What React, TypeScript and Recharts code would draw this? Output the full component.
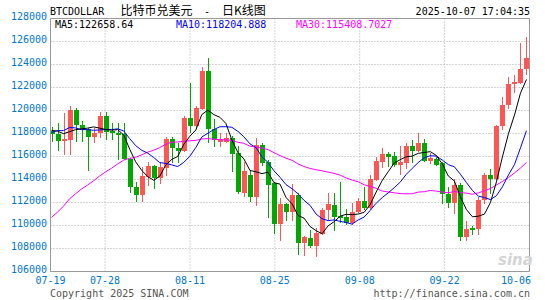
import { ComposedChart, Bar, Line, XAxis, YAxis, CartesianGrid, ReferenceLine } from "recharts";

// daily candles, 07-19 .. 10-06
const dates = [
  "07-19","07-20","07-21","07-22","07-23","07-24","07-25","07-26","07-27","07-28","07-29","07-30","07-31",
  "08-01","08-02","08-03","08-04","08-05","08-06","08-07","08-08","08-09","08-10","08-11","08-12","08-13","08-14","08-15","08-16",
  "08-17","08-18","08-19","08-20","08-21","08-22","08-23","08-24","08-25","08-26","08-27","08-28","08-29","08-30","08-31",
  "09-01","09-02","09-03","09-04","09-05","09-06","09-07","09-08","09-09","09-10","09-11","09-12","09-13","09-14","09-15",
  "09-16","09-17","09-18","09-19","09-20","09-21","09-22","09-23","09-24","09-25","09-26","09-27","09-28","09-29","09-30",
  "10-01","10-02","10-03","10-04","10-05","10-06",
];

const open = [
  118230,117970,117340,117450,120060,118780,118400,117680,118030,119540,
  118250,118080,117970,115770,113340,112640,114260,115190,114170,114990,
  117510,116780,116520,119380,118670,120150,123460,118380,117280,117300,
  117600,116290,112810,114400,112520,117010,115560,113680,110150,111880,
  111210,112670,108470,108900,108230,109280,111360,111800,110840,110780,
  110200,111210,112150,111510,113970,115560,116210,116060,115280,115420,
  116930,116490,117210,115650,115770,115420,112750,112000,113480,109040,
  109740,109680,112180,114400,114060,118610,120500,122290,122380,123600,
];
const high = [
  118600,118950,119820,120350,120210,119100,118520,118470,119910,119910,
  118900,118950,118900,115900,113820,115130,115560,115280,115500,117680,
  117680,117160,119480,122400,120400,123820,124550,119250,118030,118030,
  117800,116870,115480,114840,117600,117160,115710,113820,112380,112000,
  113620,112810,109100,109620,109770,111510,112810,112810,113820,111450,
  111940,112380,113390,114400,116000,116780,116430,116430,116870,117160,
  117450,118030,117510,116290,116000,115560,113390,114030,113680,110400,
  109970,112470,114550,114930,118750,121190,122950,123100,125860,126360,
];
const low = [
  117300,116520,116140,116150,117300,117300,114780,117160,117600,117450,
  117450,115710,115710,112810,112030,112030,113450,113200,113600,114320,
  115420,115420,116410,118030,118490,120060,117160,116810,116810,117190,
  114690,112730,112470,112030,111710,115190,110690,109280,108670,110350,
  110350,107450,107390,108030,107300,109190,110350,109480,110200,110060,
  110060,111100,111360,111360,113880,114990,115130,115080,114400,114900,
  115420,116410,115540,115360,115190,111860,111510,111010,108690,108690,
  109190,109190,111880,112750,113970,118320,120120,121560,122320,123100,
];
const close = [
  117970,117340,117510,120060,118780,118320,117680,118030,119540,118170,
  118030,117910,115770,113340,112640,114320,115190,114170,115130,117510,
  116730,116490,119380,118670,120250,123460,118380,117450,117510,117600,
  116230,112900,114700,112520,117010,115420,113540,110150,111880,111210,
  112670,108470,108990,108230,109390,111360,111880,110780,110640,110200,
  111210,112150,111510,114030,115650,116210,116000,115280,115480,116930,
  116490,117210,115620,115860,115280,112750,112000,113480,109040,109680,
  109600,112230,114400,114060,118670,120500,122290,122490,123600,124600,
];
// closes 06-20 .. 07-18, only used to start the moving averages
const priorCloses = [
  103300,102100,100900,105500,106000,107300,106900,107100,107300,108400,
  107100,105700,108800,109600,108000,108200,109200,108300,108900,111300,
  115900,117500,117400,119100,119800,117700,118600,119200,117900,
];

const tickDates = ["07-19", "07-28", "08-11", "08-25", "09-08", "09-22", "10-06"];
const yTicks = [106000, 108000, 110000, 112000, 114000, 116000, 118000, 120000, 122000, 124000, 126000, 128000];

const title = "BTCDOLLAR";
const titleCn = "比特币兑美元";
const titleCn2 = "日K线图";
const stamp = "2025-10-07 17:04:35";
const maTexts = ["MA5:122658.64", "MA10:118204.888", "MA30:115408.7027"];

const UP = "#ff5555";
const DOWN = "#00a800";
const BLUE = "#0077cc";
const MONO = "'DejaVu Sans Mono', monospace";
const X0 = -0.17;
const X1 = 79.5;

const all = [...priorCloses, ...close];
const ma = (n: number, k: number) => {
  const end = priorCloses.length + k;
  let s = 0;
  for (let j = end - n + 1; j <= end; j++) s += all[j];
  return s / n;
};

const rows = dates.map((d, i) => ({
  i,
  d,
  open: open[i],
  high: high[i],
  low: low[i],
  close: close[i],
  hl: [low[i], high[i]],
  ma5: ma(5, i),
  ma10: ma(10, i),
  ma30: ma(30, i),
}));

const tickIdx = tickDates.map((t) => dates.indexOf(t));
const xTicks = tickIdx.map((k) => X0 + (k * (X1 - X0)) / (dates.length - 1));

function Candle(props: any) {
  const { x, y, width, height, payload } = props;
  if (height == null || !payload) return null;
  const { open: o, close: c, high: h, low: l } = payload;
  const s = h > l ? height / (h - l) : 0;
  const col = c >= o ? UP : DOWN;
  const mid = x + width / 2;
  const wx = Math.floor(mid) + 0.5;
  const top = Math.round(y + (h - Math.max(o, c)) * s);
  const bot = Math.round(y + (h - Math.min(o, c)) * s);
  return (
    <g shapeRendering="crispEdges">
      <line x1={wx} x2={wx} y1={Math.round(y)} y2={Math.round(y + height)} stroke={col} />
      <rect x={Math.round(mid - 2.5)} y={top} width={5} height={Math.max(1, bot - top)} fill={col} />
    </g>
  );
}

const XTick = ({ x, payload, index }: any) => {
  const last = index === tickDates.length - 1;
  return (
    <text x={last ? x + 1.5 : x} y={284} textAnchor={last ? "end" : "middle"} fill={BLUE} fontSize={10} fontFamily={MONO}>
      {tickDates[index] ?? payload.value}
    </text>
  );
};

const YTick = ({ y, payload }: any) => (
  <text x={47} y={y + 1} textAnchor="end" fill={BLUE} fontSize={10} fontFamily={MONO}>
    {payload.value}
  </text>
);

export default function App() {
  return (
    <div style={{ position: "absolute", left: 0, top: 0, width: 545, height: 300, background: "#fff" }}>
      <ComposedChart width={545} height={300} data={rows} margin={{ top: 18.5, right: 15.5, bottom: 0, left: 0 }}>
        <CartesianGrid stroke="#aaaaaa" strokeDasharray="1 2" />
        <XAxis
          type="number"
          dataKey="i"
          domain={[X0, X1]}
          allowDataOverflow
          ticks={xTicks}
          tick={<XTick />}
          tickLine={false}
          interval={0}
          height={28.5}
          axisLine={{ stroke: "#999" }}
        />
        <YAxis
          type="number"
          domain={[106000, 128000]}
          allowDataOverflow
          ticks={yTicks}
          tick={<YTick />}
          tickLine={false}
          interval={0}
          width={50.5}
          axisLine={{ stroke: "#999" }}
        />
        <ReferenceLine y={128000} stroke="#999" />
        <ReferenceLine x={X1} stroke="#999" />
        <Bar dataKey="hl" barSize={5} shape={<Candle />} isAnimationActive={false} />
        <Line dataKey="ma30" stroke="#ff00ff" strokeWidth={1} dot={false} isAnimationActive={false} />
        <Line dataKey="ma10" stroke="#0000ff" strokeWidth={1} dot={false} isAnimationActive={false} />
        <Line dataKey="ma5" stroke="#000000" strokeWidth={1} dot={false} isAnimationActive={false} />
      </ComposedChart>
      <svg width={545} height={300} style={{ position: "absolute", left: 0, top: 0, pointerEvents: "none" }}>
        <text x={50} y={15} fontSize={10} fontFamily={MONO} fill="#000">{title}</text>
        <text x={120.5} y={15} fontSize={12} fontFamily="'Noto Sans CJK SC'" fill="#000">{titleCn}</text>
        <text x={204} y={15} fontSize={10} fontFamily={MONO} fill="#000">-</text>
        <text x={222} y={15} fontSize={12} fontFamily="'Noto Sans CJK SC'" fill="#000">{titleCn2}</text>
        <text x={530} y={15} textAnchor="end" fontSize={10} fontFamily={MONO} fill="#000">{stamp}</text>
        <text x={55} y={28} fontSize={10} fontFamily={MONO} fill="#000">{maTexts[0]}</text>
        <text x={176} y={28} fontSize={10} fontFamily={MONO} fill="#0000ff">{maTexts[1]}</text>
        <text x={296} y={28} fontSize={10} fontFamily={MONO} fill="#ff00ff">{maTexts[2]}</text>
        <text x={498} y={265} fontSize={15} fontStyle="italic" fontWeight="bold" fontFamily="'DejaVu Sans'" fill="#d4d4d4">sina</text>
        <text x={50} y={297} fontSize={10} fontFamily={MONO} fill="#555">Copyright 2025 SINA.COM</text>
        <text x={530} y={297} textAnchor="end" fontSize={10} fontFamily={MONO} fill="#555">http://finance.sina.com.cn</text>
      </svg>
    </div>
  );
}
